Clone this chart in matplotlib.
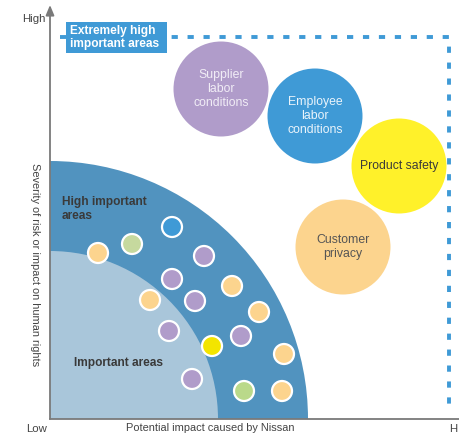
import matplotlib.pyplot as plt
from matplotlib.patches import Circle, Wedge, Rectangle

plt.rcParams['font.family'] = ['Liberation Sans', 'DejaVu Sans']

# small issue bubbles: impact (x) and severity (y), in chart units
small_impact = [48, 82, 122, 154, 122, 100, 145, 119, 162, 142, 182, 209, 191, 234, 194, 232]
small_severity = [166, 175, 192, 163, 140, 119, 118, 88, 73, 40, 133, 107, 83, 65, 28, 28]
small_kind = ['peach', 'green', 'blue', 'purple', 'purple', 'peach', 'purple', 'purple',
              'yellow', 'purple', 'peach', 'peach', 'purple', 'peach', 'green2', 'peach']

# extremely high important issues
big_labels = ['Supplier\nlabor\nconditions', 'Employee\nlabor\nconditions',
              'Product safety', 'Customer\nprivacy']
big_impact = [171, 265, 349, 293]
big_severity = [330, 303, 253, 172]
big_kind = ['purple', 'blue', 'yellow_big', 'peach']
big_text = ['#f1edf6', '#eaf4fb', '#3a3a3a', '#555555']

colors = {'peach': '#fcd48e', 'green': '#c6d99e', 'green2': '#bad98a', 'blue': '#3f9ad6',
          'purple': '#b09cca', 'yellow': '#f3e500', 'yellow_big': '#fff12a'}

fig = plt.figure(figsize=(4.6, 4.34), dpi=100)
ax = fig.add_axes([50 / 460, 15 / 434, 410 / 460, 414 / 434])
ax.set_xlim(0, 410)
ax.set_ylim(0, 414)
ax.axis('off')

# zones
ax.add_patch(Wedge((0, 0), 258, 0, 90, color='#5193bf', lw=0))
ax.add_patch(Wedge((0, 0), 168, 0, 90, color='#a9c6da', lw=0))

# dotted border of the extremely high area
ax.plot([10, 399, 399], [382, 382, 8], color='#3f9ad6', lw=2.8,
        linestyle=(0, (1.6, 2.5)), solid_capstyle='butt', dash_capstyle='butt')
ax.add_patch(Rectangle((16, 366), 101, 31, color='#3f9ad6', lw=0, zorder=3))
ax.text(20, 381.5, 'Extremely high\nimportant areas', color='white', fontsize=8.6,
        fontweight='bold', va='center', ha='left', linespacing=1.2, zorder=4)

ax.text(12, 210, 'High important\nareas', color='#3a3a3a', fontsize=8.6,
        fontweight='bold', va='center', ha='left', linespacing=1.2)
ax.text(24, 56, 'Important areas', color='#3a3a3a', fontsize=8.6,
        fontweight='bold', va='center', ha='left')

for x, y, k in zip(small_impact, small_severity, small_kind):
    ax.add_patch(Circle((x, y), 10, facecolor=colors[k], edgecolor='white', lw=1.6, zorder=5))

for lab, x, y, k, tc in zip(big_labels, big_impact, big_severity, big_kind, big_text):
    ax.add_patch(Circle((x, y), 47.5, facecolor=colors[k], edgecolor='none', zorder=5))
    ax.text(x, y, lab, color=tc, fontsize=8.8, ha='center', va='center',
            linespacing=1.18, zorder=6)

# axes lines
ax.plot([0, 412], [0, 0], color='#7a7a7a', lw=1.3, clip_on=False)
ax.annotate('', xy=(0, 414), xytext=(0, 0), annotation_clip=False,
            arrowprops=dict(arrowstyle='-|>,head_width=0.25,head_length=0.6',
                            color='#7a7a7a', lw=1.3, shrinkA=0, shrinkB=0))

ax.text(-4, 400, 'High', color='#444444', fontsize=8.2, ha='right', va='center')
ax.text(-13, -10, 'Low', color='#444444', fontsize=8.2, ha='center', va='center')
ax.text(399, -10, 'H', color='#444444', fontsize=8.2, ha='left', va='center')
ax.text(160, -9, 'Potential impact caused by Nissan', color='#444444', fontsize=7.9,
        ha='center', va='center')
ax.text(-15, 154, 'Severity of risk or impact on human rights', color='#444444',
        fontsize=7.9, rotation=-90, ha='center', va='center')

fig.savefig('out.png', dpi=100)
